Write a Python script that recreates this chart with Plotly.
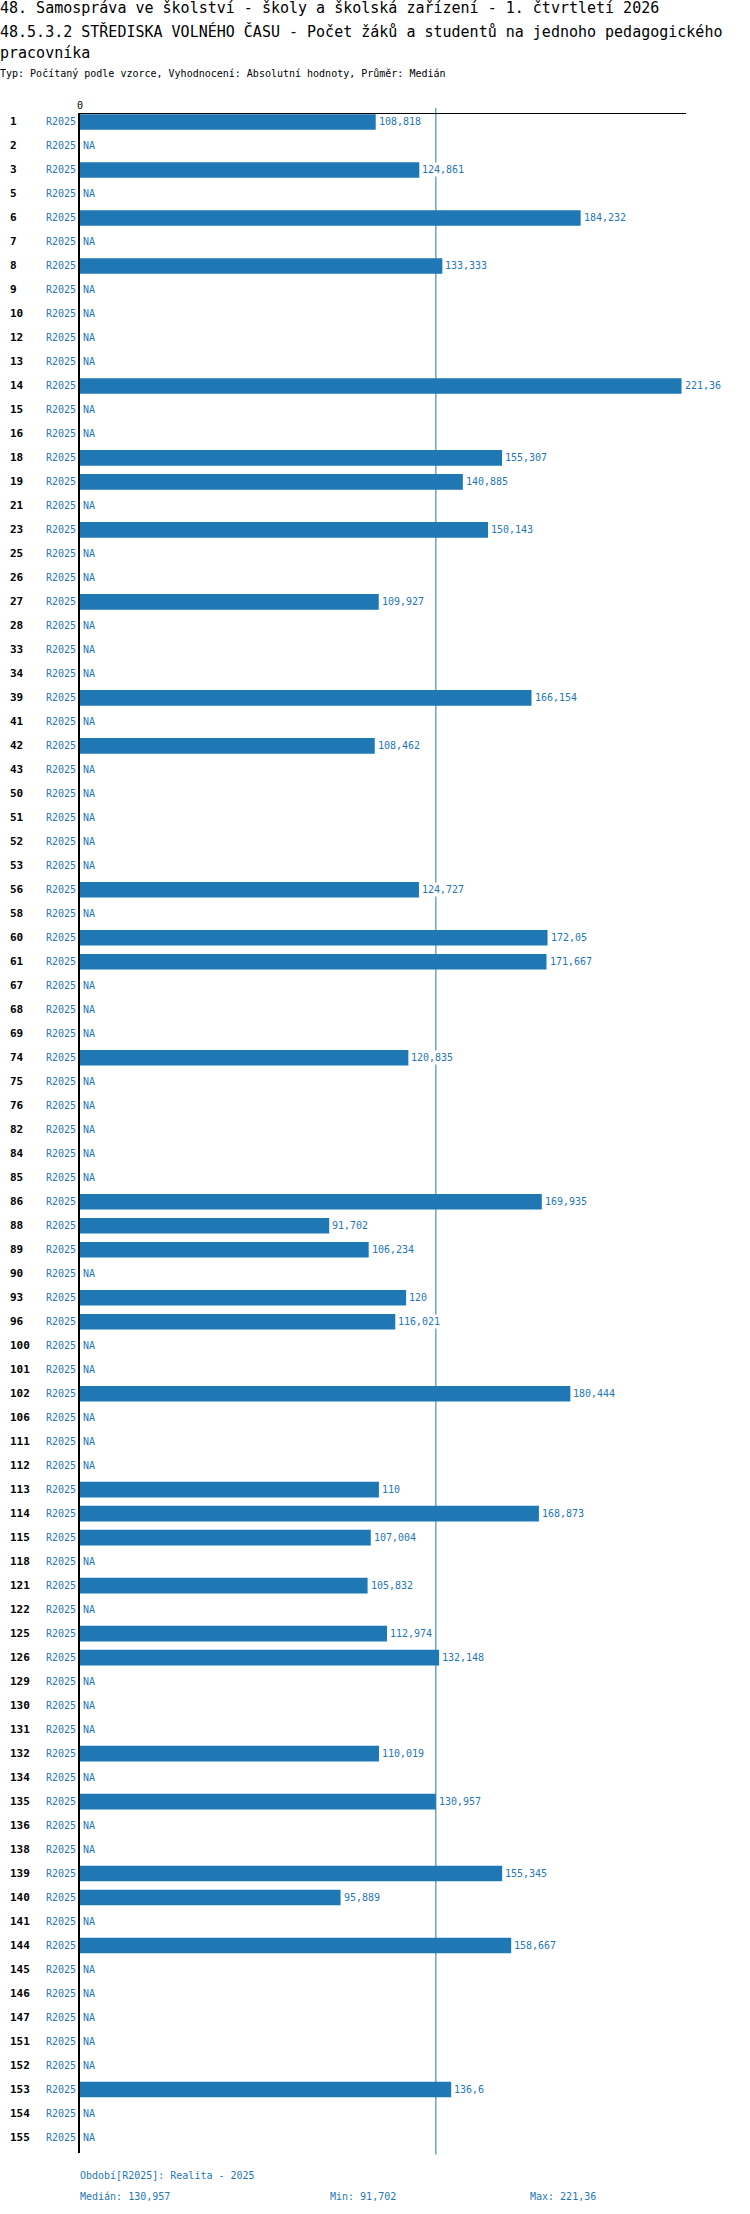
import numpy
import plotly.graph_objects as go


categories = ["1", "2", "3", "5", "6", "7", "8", "9", "10", "12", "13", "14", "15", "16", "18", "19",
              "21", "23", "25", "26", "27", "28", "33", "34", "39", "41", "42", "43", "50", "51", "52",
              "53", "56", "58", "60", "61", "67", "68", "69", "74", "75", "76", "82", "84", "85", "86",
              "88", "89", "90", "93", "96", "100", "101", "102", "106", "111", "112", "113", "114",
              "115", "118", "121", "122", "125", "126", "129", "130", "131", "132", "134", "135",
              "136", "138", "139", "140", "141", "144", "145", "146", "147", "151", "152", "153",
              "154", "155"]
values = [108.818, None, 124.861, None, 184.232, None, 133.333, None, None, None, None, 221.36,
          None, None, 155.307, 140.885, None, 150.143, None, None, 109.927, None, None, None,
          166.154, None, 108.462, None, None, None, None, None, 124.727, None, 172.05, 171.667,
          None, None, None, 120.835, None, None, None, None, None, 169.935, 91.702, 106.234, None,
          120, 116.021, None, None, 180.444, None, None, None, 110, 168.873, 107.004, None,
          105.832, None, 112.974, 132.148, None, None, None, 110.019, None, 130.957, None, None,
          155.345, 95.889, None, 158.667, None, None, None, None, None, 136.6, None, None]
period = "R2025"
period_name = "Realita - 2025"

title_lines = [
    "48. Samospráva ve školství - školy a školská zařízení - 1. čtvrtletí 2026",
    "48.5.3.2 STŘEDISKA VOLNÉHO ČASU - Počet žáků a studentů na jednoho pedagogického",
    "pracovníka",
]
subtitle = "Typ: Počítaný podle vzorce, Vyhodnocení: Absolutní hodnoty, Průměr: Medián"

BLUE = "#1f77b4"
FONT = "DejaVu Sans Mono"

W, H = 750, 2214
L, R, T, B = 80, 686, 114, 2153.5


def px_x(px):
    return (px - L) / (R - L)


def px_y(py):
    return (B - py) / (B - T)


def fmt(v):
    s = "{:.3f}".format(v).rstrip("0").rstrip(".")
    return s.replace(".", ",")


known = [v for v in values if v is not None]
median = float(numpy.median(known))
rows = list(range(len(categories)))

figure = go.Figure()
figure.add_trace(go.Bar(x=values, y=rows, orientation="h",
                        marker=dict(color=BLUE, line=dict(width=0)),
                        hoverinfo="skip"))

annotations = []
for i, (cat, v) in enumerate(zip(categories, values)):
    # cislo radku vlevo, hodnota nebo NA za osou
    annotations.append(dict(x=px_x(8), xref="paper", y=i, yref="y", text="<b>%s</b>" % cat,
                            showarrow=False, xanchor="left", yanchor="middle",
                            font=dict(family=FONT, size=11, color="black")))
    label = "NA" if v is None else fmt(v)
    annotations.append(dict(x=0 if v is None else v, xref="x", y=i, yref="y", text=label,
                            showarrow=False, xanchor="left", yanchor="middle", xshift=1,
                            bgcolor="white", borderpad=1,
                            font=dict(family=FONT, size=10, color=BLUE)))

title_y = [8, 31, 52.5]
for line, py in zip(title_lines, title_y):
    annotations.append(dict(x=px_x(-2), xref="paper", y=px_y(py), yref="paper", text=line,
                            showarrow=False, xanchor="left", yanchor="middle",
                            font=dict(family=FONT, size=15, color="black")))
annotations.append(dict(x=px_x(-2), xref="paper", y=px_y(73), yref="paper", text=subtitle,
                        showarrow=False, xanchor="left", yanchor="middle",
                        font=dict(family=FONT, size=10, color="black")))

footer = [
    ("Období[%s]: %s" % (period, period_name), 80, 2176),
    ("Medián: %s" % fmt(median), 80, 2197),
    ("Min: %s" % fmt(min(known)), 330, 2197),
    ("Max: %s" % fmt(max(known)), 530, 2197),
]
for text, px, py in footer:
    annotations.append(dict(x=px_x(px - 2), xref="paper", y=px_y(py), yref="paper", text=text,
                            showarrow=False, xanchor="left", yanchor="middle",
                            font=dict(family=FONT, size=10, color=BLUE)))

figure.add_shape(type="line", xref="x", yref="paper", x0=median, x1=median,
                 y0=px_y(2155), y1=px_y(108), line=dict(color=BLUE, width=1), layer="below")

figure.update_layout(
    width=W, height=H,
    margin=dict(l=L, r=W - R, t=T, b=H - B, pad=0),
    paper_bgcolor="white", plot_bgcolor="white",
    showlegend=False, bargap=0.35,
    font=dict(family=FONT, size=10, color="black"),
    annotations=annotations,
    xaxis=dict(range=[0, 223], side="top", tickmode="array", tickvals=[0], ticktext=["0"],
               showgrid=False, zeroline=False, showline=True, linecolor="black", linewidth=1,
               ticks="", tickfont=dict(family=FONT, size=10, color="black")),
    yaxis=dict(range=[84.646, -0.333], tickmode="array", tickvals=rows,
               ticktext=[period] * len(rows), showgrid=False, zeroline=False,
               showline=True, linecolor="black", linewidth=2, ticks="",
               tickfont=dict(family=FONT, size=10, color=BLUE)),
)

figure.write_html("out.html", config=dict(displayModeBar=False),
                  post_script="document.body.style.margin='0';")
